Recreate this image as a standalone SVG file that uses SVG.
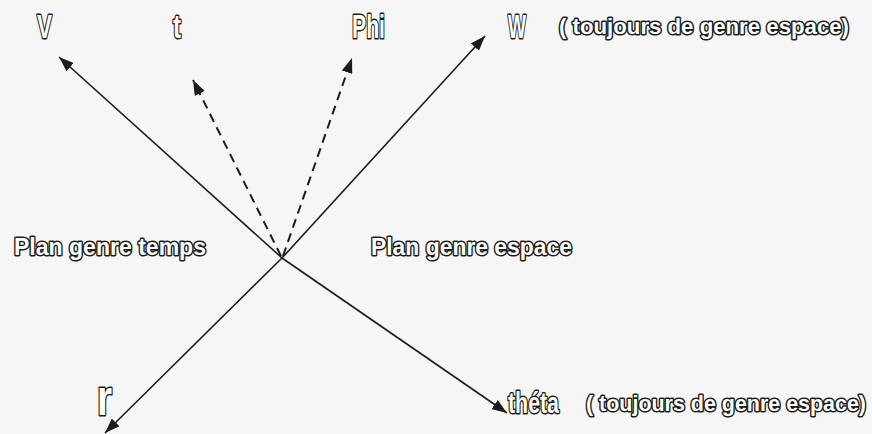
<svg xmlns="http://www.w3.org/2000/svg" width="872" height="434" viewBox="0 0 872 434">
  <style>
    .lbl { font-family: "Liberation Sans", Arial, sans-serif; font-weight: bold; fill: #ffffff; stroke: #1c1c1c; stroke-width: 3; stroke-linejoin: round; paint-order: stroke fill; }
    .axis { stroke: #1c1c1c; stroke-width: 1.6; fill: none; }
    .dash { stroke-dasharray: 9 6; stroke-width: 2; }
  </style>
  <defs>
    <marker id="ah" viewBox="0 0 15 11" refX="15" refY="5.5" markerWidth="15" markerHeight="11" markerUnits="userSpaceOnUse" orient="auto">
      <path d="M0,0 L15,5.5 L0,11 Z" fill="#1c1c1c"/>
    </marker>
  </defs>
  <rect width="872" height="434" fill="#f6f6f6"/>
  <g id="connectors">
    <line class="axis" x1="282" y1="258" x2="59" y2="57" marker-end="url(#ah)"/>
    <line class="axis" x1="282" y1="258" x2="485" y2="36" marker-end="url(#ah)"/>
    <line class="axis" x1="282" y1="258" x2="105" y2="433" marker-end="url(#ah)"/>
    <line class="axis" x1="282" y1="258" x2="507" y2="413" marker-end="url(#ah)"/>
    <line class="axis dash" x1="281" y1="256" x2="193" y2="80" marker-end="url(#ah)"/>
    <line class="axis dash" x1="283" y1="256" x2="352" y2="58" marker-end="url(#ah)"/>
  </g>
  <g id="node-V"><text class="lbl" x="37" y="38" font-size="34" textLength="15" lengthAdjust="spacingAndGlyphs">V</text></g>
  <g id="node-t"><text class="lbl" x="173" y="38" font-size="34" textLength="8" lengthAdjust="spacingAndGlyphs">t</text></g>
  <g id="node-Phi"><text class="lbl" x="352" y="38" font-size="34" textLength="33" lengthAdjust="spacingAndGlyphs">Phi</text></g>
  <g id="node-W"><text class="lbl" x="508" y="38" font-size="34" textLength="18" lengthAdjust="spacingAndGlyphs">W</text></g>
  <g id="note-W"><text class="lbl" x="559" y="34" font-size="22" textLength="290" lengthAdjust="spacingAndGlyphs">( toujours de genre espace)</text></g>
  <g id="plan-temps"><text class="lbl" x="14" y="255" font-size="24" textLength="192" lengthAdjust="spacingAndGlyphs">Plan genre temps</text></g>
  <g id="plan-espace"><text class="lbl" x="371" y="255" font-size="24" textLength="201" lengthAdjust="spacingAndGlyphs">Plan genre espace</text></g>
  <g id="node-r"><text class="lbl" x="97" y="415" font-size="50" textLength="15" lengthAdjust="spacingAndGlyphs">r</text></g>
  <g id="node-theta"><text class="lbl" x="508" y="413" font-size="29" textLength="51" lengthAdjust="spacingAndGlyphs">théta</text></g>
  <g id="note-theta"><text class="lbl" x="586" y="411" font-size="22" textLength="280" lengthAdjust="spacingAndGlyphs">( toujours de genre espace)</text></g>
</svg>
